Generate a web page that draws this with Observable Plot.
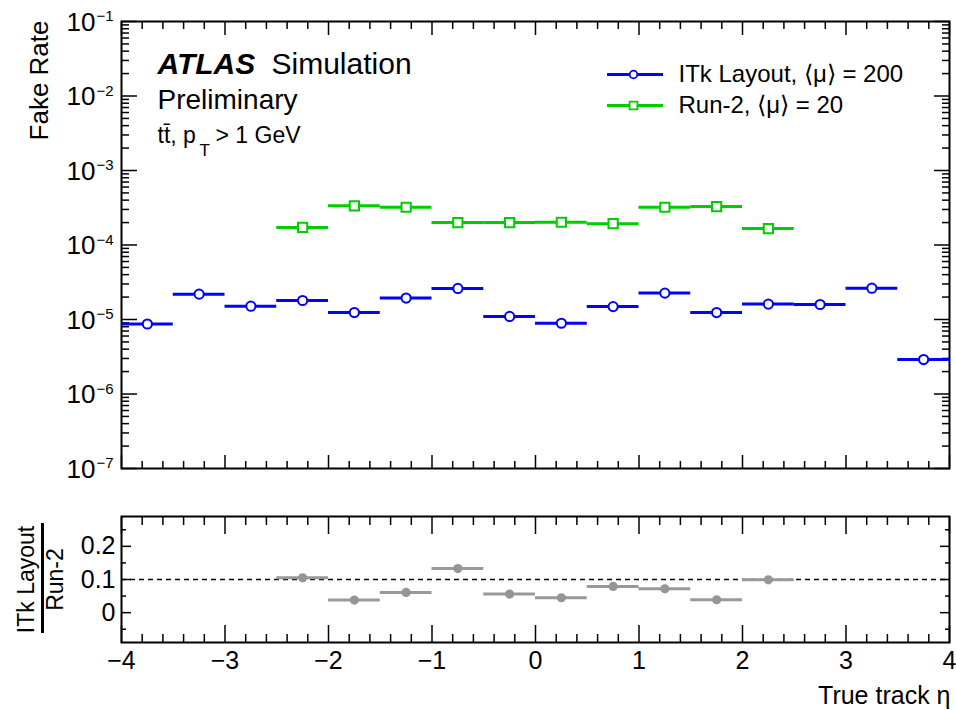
<!DOCTYPE html>
<html><head><meta charset="utf-8">
<script src="https://cdn.jsdelivr.net/npm/d3@7"></script>
<script src="https://cdn.jsdelivr.net/npm/@observablehq/plot@0.6"></script>
<style>
body{margin:0;background:#fff}
#chart{width:956px;height:710px;position:relative}
#chart svg{display:block}
</style>
</head><body><div id="chart"></div>
<script>
// ---------- data ----------
const binWidth = 0.5;
const itkBinLow = [-4, -3.5, -3, -2.5, -2, -1.5, -1, -0.5, 0, 0.5, 1, 1.5, 2, 2.5, 3, 3.5];
const itkRate = [8.7e-6, 2.19e-5, 1.51e-5, 1.80e-5, 1.24e-5, 1.94e-5, 2.61e-5, 1.10e-5,
                 8.9e-6, 1.49e-5, 2.26e-5, 1.24e-5, 1.61e-5, 1.59e-5, 2.63e-5, 2.9e-6];
const run2BinLow = [-2.5, -2, -1.5, -1, -0.5, 0, 0.5, 1, 1.5, 2];
const run2Rate = [1.72e-4, 3.36e-4, 3.21e-4, 2.0e-4, 2.0e-4, 2.02e-4, 1.93e-4, 3.21e-4, 3.28e-4, 1.66e-4];
const ratioBinLow = [-2.5, -2, -1.5, -1, -0.5, 0, 0.5, 1, 1.5, 2];
const ratioValue = [0.105, 0.038, 0.061, 0.133, 0.056, 0.045, 0.079, 0.072, 0.039, 0.099];
const ratioReference = [0.1];

const xDomain = [-4, 4];
const xMajorTicks = [-4, -3, -2, -1, 0, 1, 2, 3, 4];
const xMinorTicks = [-3.8,-3.6,-3.4,-3.2,-2.8,-2.6,-2.4,-2.2,-1.8,-1.6,-1.4,-1.2,-0.8,-0.6,-0.4,-0.2,
                     0.2,0.4,0.6,0.8,1.2,1.4,1.6,1.8,2.2,2.4,2.6,2.8,3.2,3.4,3.6,3.8];
const yDomain = [1e-7, 1e-1];
const yDecadeExps = [-1, -2, -3, -4, -5, -6, -7];
const yMinorMantissas = [2, 3, 4, 5, 6, 7, 8, 9];
const ratioDomain = [-0.09, 0.29];
const ratioMajorTicks = [0, 0.1, 0.2];
const ratioMinorTicks = [-0.05, 0.05, 0.15, 0.25];

const legendLabels = ["ITk Layout, \u27E8\u03BC\u27E9 = 200", "Run-2, \u27E8\u03BC\u27E9 = 20"];

// ---------- derived tables ----------
const blue = "#0000ff", green = "#00cc00", gray = "#999999";
const itk = itkBinLow.map((lo, i) => ({lo, hi: lo + binWidth, mid: lo + binWidth / 2, v: itkRate[i]}));
const run2 = run2BinLow.map((lo, i) => ({lo, hi: lo + binWidth, mid: lo + binWidth / 2, v: run2Rate[i]}));
const ratio = ratioBinLow.map((lo, i) => ({lo, hi: lo + binWidth, mid: lo + binWidth / 2, v: ratioValue[i]}));
const yMajorTicks = yDecadeExps.map(e => Math.pow(10, e));
const yMinorTicks = [];
for (const e of yDecadeExps.slice(1)) for (const m of yMinorMantissas) yMinorTicks.push(m * Math.pow(10, e));

const font = "'Liberation Sans', Arial, Helvetica, sans-serif";
const minus = d => (d < 0 ? "\u2212" + Math.abs(d) : String(d));

const W = 956, ML = 121, MR = 7;

// ---------- top panel ----------
const topPanel = Plot.plot({
  width: W, height: 490,
  marginLeft: ML, marginRight: MR, marginTop: 21, marginBottom: 22,
  style: {fontFamily: font, fontSize: "25px", color: "#000", background: "transparent"},
  x: {domain: xDomain},
  y: {type: "log", domain: yDomain},
  marks: [
    Plot.axisX(xMajorTicks, {anchor: "bottom", tickSize: -13, strokeWidth: 1.5, fill: "none", tickFormat: () => "", label: null}),
    Plot.axisX(xMinorTicks, {anchor: "bottom", tickSize: -7, strokeWidth: 1.5, fill: "none", tickFormat: () => "", label: null}),
    Plot.axisX(xMajorTicks, {anchor: "top", tickSize: -13, strokeWidth: 1.5, fill: "none", tickFormat: () => "", label: null}),
    Plot.axisX(xMinorTicks, {anchor: "top", tickSize: -7, strokeWidth: 1.5, fill: "none", tickFormat: () => "", label: null}),
    Plot.axisY(yMajorTicks, {anchor: "left", tickSize: -16, strokeWidth: 1.5, fill: "none", tickFormat: () => "", label: null}),
    Plot.axisY(yMinorTicks, {anchor: "left", tickSize: -8, strokeWidth: 1.5, fill: "none", tickFormat: () => "", label: null}),
    Plot.axisY(yMajorTicks, {anchor: "right", tickSize: -16, strokeWidth: 1.5, fill: "none", tickFormat: () => "", label: null}),
    Plot.axisY(yMinorTicks, {anchor: "right", tickSize: -8, strokeWidth: 1.5, fill: "none", tickFormat: () => "", label: null}),
    Plot.frame({strokeWidth: 2}),
    Plot.text(yDecadeExps, {y: e => Math.pow(10, e), text: () => "10", frameAnchor: "left", dx: -26, dy: 1,
      textAnchor: "end", lineAnchor: "middle", fontSize: 26}),
    Plot.text(yDecadeExps, {y: e => Math.pow(10, e), text: e => "\u2212" + Math.abs(e), frameAnchor: "left", dx: -25, dy: -5,
      textAnchor: "start", lineAnchor: "middle", fontSize: 15}),
    Plot.text(["Fake Rate"], {text: d => d, frameAnchor: "top-left", dx: -82, dy: -1, rotate: -90,
      textAnchor: "end", lineAnchor: "middle", fontSize: 26}),
    Plot.ruleY(run2, {x1: "lo", x2: "hi", y: "v", stroke: green, strokeWidth: 3}),
    Plot.dot(run2, {x: "mid", y: "v", symbol: "square", r: 5.2, stroke: green, fill: "white", strokeWidth: 2}),
    Plot.ruleY(itk, {x1: "lo", x2: "hi", y: "v", stroke: blue, strokeWidth: 3}),
    Plot.dot(itk, {x: "mid", y: "v", r: 4.6, stroke: blue, fill: "white", strokeWidth: 2}),
    Plot.text(["ATLAS"], {text: d => d, frameAnchor: "top-left", dx: 36, dy: 52, textAnchor: "start", lineAnchor: "bottom",
      fontSize: 30, fontWeight: "bold", fontStyle: "italic"}),
    Plot.text(["Simulation"], {text: d => d, frameAnchor: "top-left", dx: 150, dy: 52, textAnchor: "start", lineAnchor: "bottom", fontSize: 30}),
    Plot.text(["Preliminary"], {text: d => d, frameAnchor: "top-left", dx: 36, dy: 87, textAnchor: "start", lineAnchor: "bottom", fontSize: 28}),
    Plot.text(["tt\u0304, p"], {text: d => d, frameAnchor: "top-left", dx: 36, dy: 121, textAnchor: "start", lineAnchor: "bottom", fontSize: 23}),
    Plot.text(["T"], {text: d => d, frameAnchor: "top-left", dx: 78, dy: 134, textAnchor: "start", lineAnchor: "bottom", fontSize: 17}),
    Plot.text(["> 1 GeV"], {text: d => d, frameAnchor: "top-left", dx: 94, dy: 121, textAnchor: "start", lineAnchor: "bottom", fontSize: 23}),
    Plot.tickY([yDomain[1]], {dy: 53, insetLeft: 486, insetRight: 286, stroke: blue, strokeWidth: 3}),
    Plot.dot([0], {frameAnchor: "top-left", dx: 512, dy: 53, r: 3.8, stroke: blue, fill: "white", strokeWidth: 1.8}),
    Plot.tickY([yDomain[1]], {dy: 84, insetLeft: 486, insetRight: 286, stroke: green, strokeWidth: 3}),
    Plot.dot([0], {frameAnchor: "top-left", dx: 512, dy: 84, symbol: "square", r: 4.4, stroke: green, fill: "white", strokeWidth: 1.8}),
    Plot.text([legendLabels[0]], {text: d => d, frameAnchor: "top-left", dx: 557, dy: 53, textAnchor: "start", lineAnchor: "middle", fontSize: 24}),
    Plot.text([legendLabels[1]], {text: d => d, frameAnchor: "top-left", dx: 557, dy: 84, textAnchor: "start", lineAnchor: "middle", fontSize: 24})
  ]
});

// ---------- ratio panel ----------
const ratioPanel = Plot.plot({
  width: W, height: 220,
  marginLeft: ML, marginRight: MR, marginTop: 26, marginBottom: 68,
  style: {fontFamily: font, fontSize: "25px", color: "#000", background: "transparent"},
  x: {domain: xDomain},
  y: {domain: ratioDomain},
  marks: [
    Plot.axisX(xMajorTicks, {anchor: "bottom", tickSize: -17, strokeWidth: 1.5, fill: "none", tickFormat: () => "", label: null}),
    Plot.axisX(xMinorTicks, {anchor: "bottom", tickSize: -8, strokeWidth: 1.5, fill: "none", tickFormat: () => "", label: null}),
    Plot.axisX(xMajorTicks, {anchor: "top", tickSize: -17, strokeWidth: 1.5, fill: "none", tickFormat: () => "", label: null}),
    Plot.axisX(xMinorTicks, {anchor: "top", tickSize: -8, strokeWidth: 1.5, fill: "none", tickFormat: () => "", label: null}),
    Plot.axisY(ratioMajorTicks, {anchor: "left", tickSize: -10, strokeWidth: 1.5, fill: "none", tickFormat: () => "", label: null}),
    Plot.axisY(ratioMinorTicks, {anchor: "left", tickSize: -5, strokeWidth: 1.5, fill: "none", tickFormat: () => "", label: null}),
    Plot.axisY(ratioMajorTicks, {anchor: "right", tickSize: -10, strokeWidth: 1.5, fill: "none", tickFormat: () => "", label: null}),
    Plot.axisY(ratioMinorTicks, {anchor: "right", tickSize: -5, strokeWidth: 1.5, fill: "none", tickFormat: () => "", label: null}),
    Plot.axisX(xMajorTicks, {anchor: "bottom", tickSize: 0, tickPadding: 9, tickFormat: minus, fontSize: 25, label: null}),
    Plot.axisY(ratioMajorTicks, {anchor: "left", tickSize: 0, tickPadding: 6, tickFormat: d => (d === 0 ? "0" : d.toFixed(1)), fontSize: 25, label: null}),
    Plot.frame({strokeWidth: 2}),
    Plot.ruleY(ratioReference, {stroke: "#000", strokeWidth: 1.5, strokeDasharray: "5,4"}),
    Plot.ruleY(ratio, {x1: "lo", x2: "hi", y: "v", stroke: gray, strokeWidth: 3}),
    Plot.dot(ratio, {x: "mid", y: "v", r: 4.6, fill: "#959595"}),
    Plot.text(["ITk Layout"], {text: d => d, frameAnchor: "left", dx: -95, dy: 0, rotate: -90, textAnchor: "middle", lineAnchor: "middle", fontSize: 23}),
    Plot.text(["Run-2"], {text: d => d, frameAnchor: "left", dx: -66, dy: 0, rotate: -90, textAnchor: "middle", lineAnchor: "middle", fontSize: 23}),
    Plot.tickX([xDomain[0]], {dx: -79, insetTop: 7, insetBottom: 9, stroke: "#000", strokeWidth: 3}),
    Plot.text(["True track \u03B7"], {text: d => d, frameAnchor: "bottom-right", dx: 1, dy: 61, textAnchor: "end", lineAnchor: "bottom", fontSize: 25})
  ]
});

const chart = document.getElementById("chart");
chart.appendChild(topPanel);
chart.appendChild(ratioPanel);
</script>
</body></html>
